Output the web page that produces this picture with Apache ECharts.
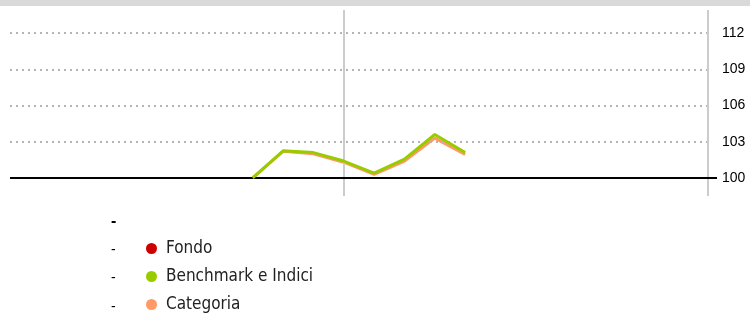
<!DOCTYPE html>
<html>
<head>
<meta charset="utf-8">
<script src="https://cdn.jsdelivr.net/npm/echarts@6/dist/echarts.min.js"></script>
<style>
html,body{margin:0;padding:0;background:#fff;}
#topbar{position:absolute;left:0;top:0;width:750px;height:6px;background:#d9d9d9;}
#chart{position:absolute;left:0;top:0;width:750px;height:318px;}
</style>
</head>
<body>
<div id="topbar"></div>
<div id="chart"></div>
<script>
// Data (24 monthly periods; the chart shows no x labels)
var categories = ['1','2','3','4','5','6','7','8','9','10','11','12','13','14','15','16','17','18','19','20','21','22','23','24'];
var fondo = [null,null,null,null,null,null,null,null,null,null,null,null,null,null,null,null,null,null,null,null,null,null,null,null];
var benchmark = [null,null,null,null,null,null,null,null,100,102.25,102.1,101.4,100.4,101.55,103.6,102.1,null,null,null,null,null,null,null,null];
var categoria = [null,null,null,null,null,null,null,null,100,102.2,102.0,101.3,100.3,101.4,103.3,101.95,null,null,null,null,null,null,null,null];
var yTickLabels = [100,103,106,109,112];
var gridValues = [103,106,109,112];
var baseValue = 100;
var yearMarks = ['12','24'];

function toPairs(arr){ return arr.map(function(v,i){ return [i, v]; }); }
function catIndex(c){ return categories.indexOf(c); }
var lastIdx = categories.length - 1;

var chart = echarts.init(document.getElementById('chart'), null, {renderer:'canvas'});
var dotted = gridValues.map(function(v){ return [{coord:[0, v]}, {coord:[lastIdx, v]}]; });
var option = {
  animation:false,
  textStyle:{fontFamily:'Liberation Sans, Arial, sans-serif'},
  title:{
    text:'{b|-}\n-\n-\n-',
    left:106, top:202,
    textStyle:{fontSize:14, fontWeight:'normal', color:'#000', lineHeight:28.5, fontFamily:'Liberation Sans',
      rich:{b:{fontSize:16, fontWeight:'bold', color:'#000', lineHeight:28.5, fontFamily:'Liberation Sans'}}}
  },
  legend:{
    orient:'vertical', left:146, top:240, itemGap:11, padding:0, height:90,
    icon:'circle', itemWidth:11, itemHeight:11,
    textStyle:{fontSize:17, color:'#222', fontFamily:'Liberation Sans Narrow, DejaVu Sans Condensed, sans-serif', padding:[0,0,0,4]},
    data:['Fondo','Benchmark e Indici','Categoria'],
    selectedMode:false
  },
  grid:{left:10, right:33, top:10, bottom:122, containLabel:false},
  xAxis:{
    type:'value', min:0, max:lastIdx + 0.3,
    axisLine:{show:false}, axisTick:{show:false}, axisLabel:{show:false}, splitLine:{show:false}
  },
  yAxis:{
    type:'value', position:'right', min:98.5, max:113.92, scale:true,
    axisLine:{show:false},
    axisTick:{show:false},
    axisLabel:{show:true, customValues:yTickLabels, margin:5, color:'#000', fontSize:14, fontFamily:'Liberation Sans, Arial, sans-serif'},
    splitLine:{show:false}
  },
  series:[
    {name:'Fondo', type:'line', data:toPairs(fondo), showSymbol:false, itemStyle:{color:'#cc0000'}, lineStyle:{color:'#cc0000', width:3}, z:4},
    {name:'Categoria', type:'line', data:toPairs(categoria), showSymbol:false, itemStyle:{color:'#ff9966'}, lineStyle:{color:'#ff9966', width:3}, z:3,
      markLine:{silent:true, symbol:['none','none'], label:{show:false},
        lineStyle:{color:'#b4b4b4', type:[2,4], width:2}, data:dotted, animation:false}},
    {name:'Benchmark e Indici', type:'line', data:toPairs(benchmark), showSymbol:false, itemStyle:{color:'#99cc00'}, lineStyle:{color:'#99cc00', width:3}, z:5,
      markLine:{silent:true, symbol:['none','none'], label:{show:false},
        data:[
          {xAxis:catIndex(yearMarks[0]), lineStyle:{color:'#cccccc', type:'solid', width:2}},
          {xAxis:catIndex(yearMarks[1]), lineStyle:{color:'#cccccc', type:'solid', width:2}},
          {yAxis:baseValue, lineStyle:{color:'#000', type:'solid', width:2}}
        ], animation:false}}
  ]
};
chart.setOption(option);
</script>
</body>
</html>
